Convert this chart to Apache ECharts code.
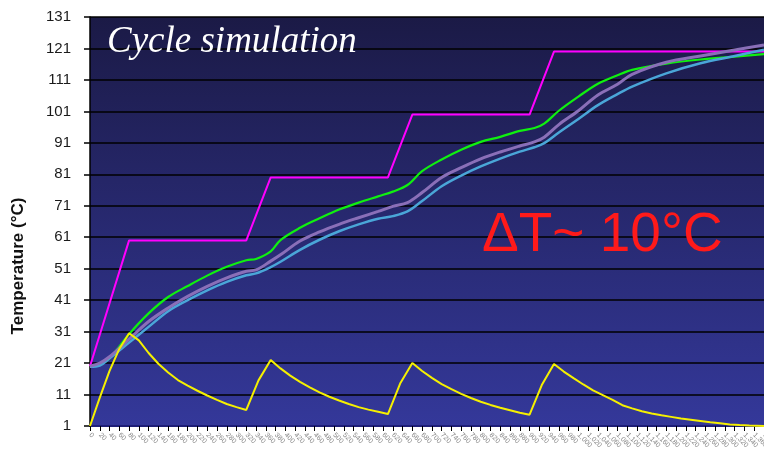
<!DOCTYPE html>
<html>
<head>
<meta charset="utf-8">
<script src="https://cdn.jsdelivr.net/npm/echarts@6/dist/echarts.min.js"></script>
<style>
  html, body { margin: 0; padding: 0; background: #ffffff; }
  #chart { width: 764px; height: 452px; }
</style>
</head>
<body>
<div id="chart"></div>
<script>
// Set-point profile (time, °C)
const setpointTime = [0, 80, 320, 370, 610, 660, 900, 950, 1380];
const setpointTemp = [20, 60, 60, 80, 80, 100, 100, 120, 120];

// Heater / delta curve (time, °C)
const heaterTime = [0, 20, 40, 60, 80, 100, 120, 140, 160, 180, 200, 220, 240, 260, 280, 300, 320,
  345, 370, 390, 410, 430, 450, 470, 490, 510, 530, 550, 570, 590, 610,
  635, 660, 680, 700, 720, 740, 760, 780, 800, 820, 840, 860, 880, 900,
  925, 950, 970, 990, 1010, 1030, 1050, 1070, 1090, 1110, 1130, 1150, 1170, 1190, 1210, 1230, 1250, 1270, 1290, 1310, 1330, 1350, 1380];
const heaterTemp = [1, 10, 18.5, 25.5, 30.5, 28.2, 24.2, 20.8, 18.0, 15.6, 13.8, 12.2, 10.7, 9.3, 8.0, 7.0, 6.1,
  15.5, 22, 19.3, 17.0, 15.0, 13.3, 11.7, 10.3, 9.1, 8.0, 7.0, 6.2, 5.5, 4.8,
  14.5, 21, 18.5, 16.3, 14.3, 12.7, 11.2, 9.9, 8.7, 7.7, 6.8, 6.0, 5.2, 4.6,
  14, 20.7, 18.3, 16.2, 14.2, 12.3, 10.8, 9.3, 7.6, 6.6, 5.7, 5.0, 4.4, 3.9, 3.4, 3.0, 2.6, 2.2, 1.9, 1.5, 1.3, 1.15, 1.0];

// Simulated temperatures at three probe positions
const probeTime = [0, 20, 40, 80, 120, 160, 200, 240, 280, 320, 340, 370, 390, 430, 470, 510, 550, 590, 620, 650,
  680, 720, 760, 800, 840, 880, 910, 930, 960, 1000, 1040, 1080, 1110, 1180, 1250, 1320, 1380];
const probeGreen = [20, 20.7, 22.5, 30.2, 36.8, 42, 45.5, 48.8, 51.6, 53.7, 54.1, 56.5, 60.1, 64, 67, 69.8, 72, 74, 75.5, 77.6,
  82, 85.7, 88.8, 91.3, 92.9, 94.8, 95.7, 97.1, 101.2, 105.7, 109.8, 112.5, 114.2, 116.2, 117.5, 118.4, 119.2];
const probePurple = [20, 21, 23, 28.6, 34.2, 38.5, 42.2, 45.4, 48.1, 50.2, 50.6, 53.4, 55.4, 59.8, 62.7, 65.1, 67.2, 69.2, 70.8, 72,
  75.2, 80, 83.1, 85.9, 88.1, 90, 91.3, 92.8, 96.8, 101.2, 106.2, 109.6, 112.8, 116.6, 118.6, 120.5, 122.1];
const probeBlue = [19.8, 20.2, 22.5, 27.5, 32.5, 37.5, 41, 44.1, 46.8, 48.9, 49.5, 51.5, 53.2, 57, 60.2, 62.9, 65.1, 66.9, 67.7, 69.2,
  72.5, 77.2, 80.6, 83.5, 86, 88.2, 89.6, 90.9, 94.3, 98.6, 103, 106.5, 108.9, 113.1, 116.3, 118.6, 120.6];

const pairs = (xs, ys) => xs.map((x, i) => [x, ys[i]]);

const chart = echarts.init(document.getElementById('chart'), null, { renderer: 'canvas' });

function lineSeries(name, xs, ys, color, width, smooth, z) {
  return {
    name, type: 'line', data: pairs(xs, ys), showSymbol: false, symbol: 'none',
    smooth: smooth, z: z,
    lineStyle: { color: color, width: width },
    emphasis: { disabled: true }, silent: true
  };
}

chart.setOption({
  animation: false,
  backgroundColor: '#ffffff',
  grid: {
    left: 90, right: 0, top: 17, bottom: 26,
    outerBoundsMode: 'none',
    containLabel: false,
    show: true, borderWidth: 0,
    backgroundColor: {
      type: 'linear', x: 0, y: 0, x2: 0, y2: 1,
      colorStops: [{ offset: 0, color: '#1b1a46' }, { offset: 1, color: '#34389a' }]
    }
  },
  xAxis: {
    type: 'value', min: 0, max: 1380, interval: 20,
    axisLine: { show: true, onZero: false, lineStyle: { color: '#1e1e78', width: 2 } },
    axisTick: { show: true, length: 5, lineStyle: { color: '#000000', width: 1 } },
    axisLabel: { fontSize: 7, color: '#888888', rotate: -45, margin: 8, fontFamily: 'Liberation Sans' },
    splitLine: { show: false }
  },
  yAxis: {
    type: 'value', min: 1, max: 131, interval: 10,
    axisLine: { show: true, lineStyle: { color: '#000000', width: 1.5 } },
    axisTick: { show: true, length: 6, lineStyle: { color: '#000000', width: 1.5 } },
    axisLabel: { fontSize: 15, color: '#1a1a1a', margin: 19, fontFamily: 'Liberation Sans' },
    splitLine: { show: true, lineStyle: { color: '#000000', width: 1.6 } }
  },
  series: [
    lineSeries('Set point', setpointTime, setpointTemp, '#ff00ff', 2, false, 2),
    lineSeries('Probe 1', probeTime, probeGreen, '#10f010', 2.2, 0.35, 3),
    lineSeries('Probe 3', probeTime, probeBlue, '#4aa6d8', 2.5, 0.35, 4),
    lineSeries('Probe 2', probeTime, probePurple, '#8a6fb8', 3, 0.35, 5),
    lineSeries('Heater', heaterTime, heaterTemp, '#f5f000', 2, false, 6)
  ],
  graphic: [
    {
      type: 'text', left: 107, top: 24, z: 100,
      style: { text: 'Cycle simulation', fill: '#ffffff', font: 'italic 37px "Liberation Serif"' }
    },
    {
      type: 'text', left: 482, top: 208, z: 100,
      style: { text: 'ΔT~ 10°C', fill: '#ff1a1a', font: '55px "Liberation Sans"' }
    },
    {
      type: 'text', x: 18, y: 266, rotation: Math.PI / 2, z: 100,
      style: { text: 'Temperature (°C)', fill: '#111111', font: 'bold 17px "Liberation Sans"', align: 'center', verticalAlign: 'middle' }
    }
  ]
});
</script>
</body>
</html>
